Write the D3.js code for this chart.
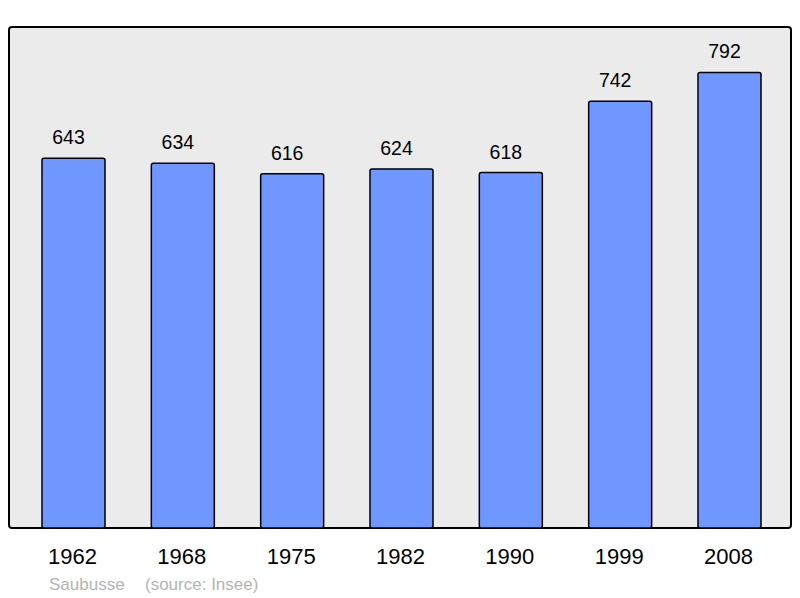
<!DOCTYPE html>
<html>
<head>
<meta charset="utf-8">
<script src="https://cdn.jsdelivr.net/npm/d3@7"></script>
<style>
  body { margin: 0; background: #fff; }
  text { font-family: "Liberation Sans", Arial, sans-serif; }
</style>
</head>
<body>
<svg id="chart_svg"></svg>
<script>
// Population data
var years = ["1962", "1968", "1975", "1982", "1990", "1999", "2008"];
var population = [643, 634, 616, 624, 618, 742, 792];
var commune = "Saubusse";
var source = "(source: Insee)";

var width = 800, height = 598;

// Panel box
var panel = { left: 9, right: 791, top: 27, bottom: 528 };

var base = d3.select('#chart_svg')
    .attr('width', width)
    .attr('height', height);

base.append('rect')
    .attr('x', panel.left)
    .attr('y', panel.top)
    .attr('width', panel.right - panel.left)
    .attr('height', panel.bottom - panel.top)
    .attr('rx', 3)
    .attr('fill', '#ebebeb')
    .attr('stroke', '#000')
    .attr('stroke-width', 2);

var x = d3.scaleBand()
    .domain(years)
    .range([9.2, 793.8])
    .paddingInner(0.4238)
    .paddingOuter(0.3);

var y = d3.scaleLinear()
    .domain([0, 871])
    .range([panel.bottom, panel.top]);

var data = years.map(function(yr, i) { return { year: yr, value: population[i] }; });

var bars = base.append('g').attr('id', 'bars');

bars.selectAll('rect')
    .data(data)
    .enter()
    .append('rect')
      .attr('x', function(d) { return x(d.year); })
      .attr('y', function(d) { return y(d.value); })
      .attr('width', x.bandwidth())
      .attr('height', function(d) { return panel.bottom - y(d.value); })
      .attr('rx', 2)
      .attr('fill', '#7096ff')
      .attr('stroke', '#000')
      .attr('stroke-width', 1.5);

// Value labels above bars (sit a little left of bar centre, as in the original)
bars.selectAll('text.value')
    .data(data)
    .enter()
    .append('text')
      .attr('class', 'value')
      .attr('x', function(d) { return x(d.year) + x.bandwidth() / 2 - 5; })
      .attr('y', function(d) { return y(d.value) - 14; })
      .attr('text-anchor', 'middle')
      .attr('font-size', '19.5px')
      .attr('fill', '#000')
      .text(function(d) { return d.value; });

// Year labels (bottom axis, no line/ticks)
var xAxis = d3.axisBottom(x).tickSize(0).tickPadding(0);
var axisG = base.append('g')
    .attr('transform', 'translate(-1,' + 564 + ')')
    .call(xAxis);
axisG.select('.domain').remove();
axisG.selectAll('text')
    .attr('dy', 0)
    .attr('y', 0)
    .attr('font-size', '22px')
    .attr('font-family', '"Liberation Sans", Arial, sans-serif')
    .attr('fill', '#000');

// Footer
base.append('text')
    .attr('x', 49)
    .attr('y', 590)
    .attr('font-size', '17px')
    .attr('fill', '#b4b4b4')
    .text(commune);
base.append('text')
    .attr('x', 145)
    .attr('y', 590)
    .attr('font-size', '17px')
    .attr('fill', '#b4b4b4')
    .text(source);
</script>
</body>
</html>
